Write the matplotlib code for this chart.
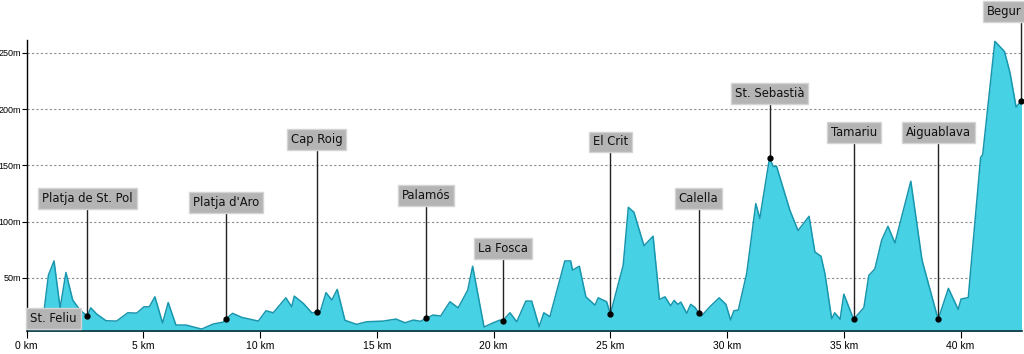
import matplotlib.pyplot as plt

# perfil: distancia (km) y altitud (m)
km = [0.00, 0.71, 0.93, 1.17, 1.43, 1.68, 1.97, 2.28, 2.60, 2.74, 3.00, 3.40, 3.85, 4.33,
      4.71, 5.02, 5.25, 5.49, 5.82, 6.06, 6.39, 6.82, 7.49, 7.99, 8.42, 8.54, 8.82, 9.21,
      9.92, 10.25, 10.56, 11.10, 11.35, 11.46, 11.85, 12.21, 12.42, 12.56, 12.82, 13.07,
      13.30, 13.63, 14.13, 14.56, 15.27, 15.82, 16.20, 16.56, 16.87, 17.10, 17.41, 17.73,
      18.13, 18.48, 18.89, 19.10, 19.59, 19.98, 20.27, 20.39, 20.70, 20.99, 21.38, 21.63,
      21.95, 22.15, 22.41, 23.05, 23.30, 23.38, 23.67, 23.95, 24.34, 24.48, 24.84, 25.00,
      25.55, 25.77, 26.01, 26.44, 26.83, 27.10, 27.34, 27.58, 27.73, 27.89, 28.02, 28.27,
      28.44, 28.62, 28.78, 28.91, 29.26, 29.66, 29.95, 30.15, 30.29, 30.48, 30.84, 31.23,
      31.40, 31.82, 31.97, 32.12, 32.69, 33.04, 33.51, 33.76, 34.02, 34.19, 34.48, 34.61,
      34.84, 35.00, 35.42, 35.86, 36.07, 36.33, 36.62, 36.89, 37.19, 37.87, 38.35, 39.04,
      39.48, 39.90, 40.02, 40.33, 40.86, 40.95, 41.47, 41.88, 42.12, 42.38, 42.61]
alt = [14.5, 15.1, 52.4, 65.0, 23.1, 54.7, 30.2, 21.3, 16.0, 23.3, 17.7, 11.8, 11.5, 18.9,
       18.6, 24.2, 24.2, 33.1, 9.8, 28.0, 8.0, 8.0, 4.4, 8.9, 10.6, 13.6, 18.4, 14.8,
       11.5, 20.7, 18.9, 32.2, 24.2, 33.7, 27.2, 18.9, 19.3, 18.9, 36.8, 30.2,
       39.7, 12.2, 8.6, 10.9, 11.5, 13.3, 10.0, 12.4, 11.3, 13.9, 16.9, 16.0,
       28.7, 23.3, 39.0, 60.3, 6.2, 10.0, 12.4, 11.8, 18.9, 10.9, 29.3, 29.3,
       6.5, 18.9, 15.4, 65.0, 65.0, 56.8, 60.3, 33.1, 25.7, 32.2, 28.7, 17.7,
       61.2, 112.7, 108.3, 78.5, 87.0, 30.8, 33.1, 25.1, 29.9, 26.4, 28.4, 18.4,
       26.4, 23.7, 18.9, 16.2, 24.2, 32.2, 26.4, 12.4, 20.7, 21.3, 53.9, 116.0,
       102.7, 156.8, 149.1, 149.1, 110.0, 92.0, 104.7, 73.0, 69.2, 53.9, 13.6, 18.9,
       13.1, 35.5, 13.1, 23.5, 52.1, 57.9, 83.4, 95.8, 81.0, 135.9, 65.7, 13.0,
       40.6, 21.9, 31.1, 32.4, 156.9, 159.7, 260.3, 251.3, 232.3, 201.8, 207.6]

# puntos con nombre
noms = ['Platja de St. Pol', "Platja d'Aro", 'Cap Roig', 'Palamós', 'La Fosca', 'El Crit',
        'Calella', 'St. Sebastià', 'Tamariu', 'Aiguablava', 'Begur']
noms_km = [2.60, 8.54, 12.42, 17.10, 20.39, 25.00, 28.78, 31.82, 35.42, 39.04, 42.61]
noms_alt = [16.0, 13.6, 19.3, 13.9, 11.8, 17.7, 18.9, 156.8, 13.1, 13.0, 207.6]
caixa_alt = [120.4, 117.1, 173.0, 123.3, 76.3, 170.8, 120.4, 213.8, 179.3, 179.3, 286.6]

yticks = [50, 100, 150, 200, 250]
xticks = [0, 5, 10, 15, 20, 25, 30, 35, 40]

plt.rcParams['font.family'] = ['DejaVu Sans']

fig = plt.figure(figsize=(10.24, 3.54), dpi=100)
ax = fig.add_axes([0.0261, 0.065, 0.9719, 0.822])

ax.fill_between(km, 0, alt, color='#46d1e4', lw=0, zorder=2)
ax.plot(km, alt, color='#1896ae', lw=1.1, zorder=3)

ax.set_xlim(0, 42.63)
ax.set_ylim(2.7, 261.5)

for y in yticks:
    ax.axhline(y, color='#8c8c8c', lw=0.8, ls=(0, (2, 2)), zorder=1)

ax.set_yticks(yticks)
ax.set_yticklabels([str(y) + 'm' for y in yticks], fontsize=6.5, family='Liberation Sans')
ax.set_xticks(xticks)
ax.set_xticklabels([str(x) + ' km' for x in xticks], fontsize=7.5, family='Liberation Sans')
ax.tick_params(axis='y', length=3.5, pad=0.5, width=0.8)
ax.tick_params(axis='x', length=5, pad=2, width=0.8)
for s in ['top', 'right']:
    ax.spines[s].set_visible(False)
ax.spines['left'].set_linewidth(1)
ax.spines['bottom'].set_linewidth(1.2)
ax.spines['bottom'].set_color('#10303a')

caixa = dict(boxstyle='square,pad=0.3', fc='#b4b4b4', ec='#d4d4d4', lw=1)

for n, x, y, yc in zip(noms, noms_km, noms_alt, caixa_alt):
    ax.plot([x, x], [yc, y], color='#222222', lw=1, zorder=5, clip_on=False)
    ax.plot(x, y, 'o', color='black', ms=3.5, zorder=6, clip_on=False)
    ha = 'right' if n == 'Begur' else 'center'
    ax.text(x, yc, n, ha=ha, va='center', fontsize=9.3, fontstretch='condensed',
            color='#111111', bbox=caixa, zorder=7, clip_on=False)

ax.text(0.15, 13.8, 'St. Feliu', ha='left', va='center', fontsize=9.3, fontstretch='condensed',
        color='#111111', bbox=caixa, zorder=7)

plt.savefig('out.png')
